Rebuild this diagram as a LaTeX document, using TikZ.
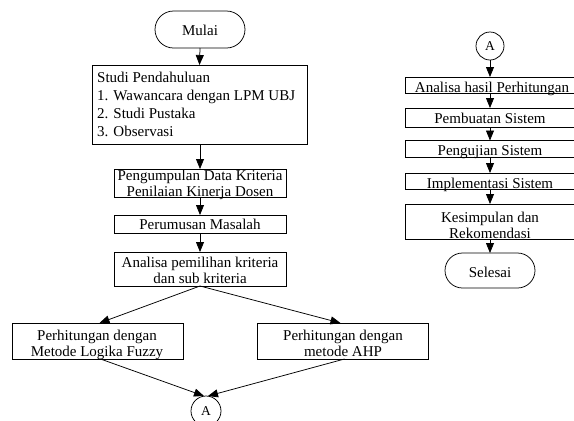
\documentclass[tikz,border=0pt]{standalone}
\usepackage{fontspec}
\setmainfont{Liberation Serif}
\usetikzlibrary{arrows.meta,shapes.misc}
\begin{document}
\begin{tikzpicture}[x=1pt,y=-1pt,
  box/.style={draw, line width=0.75pt, inner sep=0pt, outer sep=0pt, rectangle},
  term/.style={draw, line width=0.75pt, inner sep=0pt, outer sep=0pt, rounded rectangle, minimum width=90pt},
  conn/.style={draw, line width=0.75pt, inner sep=0pt, outer sep=0pt, circle},
  txt/.style={inner sep=0pt, font=\fontsize{15}{16}\selectfont, align=center},
  atxt/.style={inner sep=0pt, font=\fontsize{13.5}{15}\selectfont},
  arr/.style={line width=0.75pt, -{Triangle[length=10pt,width=8pt]}}]
\useasboundingbox (0,0) rectangle (574,421);
% left column shapes
\node[term, minimum height=37pt] (mulai) at (200,29.5) {};
\node[box, minimum width=215pt, minimum height=79pt] (studi) at (199.5,104.5) {};
\node[box, minimum width=172pt, minimum height=28pt] (peng) at (200,183) {};
\node[box, minimum width=172pt, minimum height=18pt] (rumus) at (200,224) {};
\node[box, minimum width=172pt, minimum height=34pt] (anal) at (200,269) {};
\node[box, minimum width=171pt, minimum height=36pt] (fuzzy) at (97.5,341) {};
\node[box, minimum width=171pt, minimum height=36pt] (ahp) at (342.5,341) {};
\node[conn, minimum size=30pt] (aB) at (206,411) {};
% right column shapes
\node[conn, minimum size=28pt] (aR) at (490,46) {};
\node[box, minimum width=169.5pt, minimum height=16pt] (hasil) at (489.75,85) {};
\node[box, minimum width=169.5pt, minimum height=19pt] (buat) at (489.75,117.5) {};
\node[box, minimum width=169.5pt, minimum height=17pt] (uji) at (489.75,149) {};
\node[box, minimum width=169.5pt, minimum height=16pt] (impl) at (489.75,181) {};
\node[box, minimum width=169.5pt, minimum height=35pt] (kesim) at (489.75,221.5) {};
\node[term, minimum height=35pt] (selesai) at (490,270.5) {};
% texts
\node[txt, anchor=base] (tmulai) at (200,35) {Mulai};
\node[txt, anchor=north west, align=left, font=\fontsize{15}{17.8}\selectfont] (tstudi) at (97,72.2)
  {Studi Pendahuluan\\1. Wawancara dengan LPM UBJ\\2. Studi Pustaka\\3. Observasi};
\node[txt, anchor=north] (tpeng) at (200,169.5) {Pengumpulan Data Kriteria\\Penilaian Kinerja Dosen};
\node[txt, anchor=base] (trumus) at (200,229) {Perumusan Masalah};
\node[txt, anchor=north] (tanal) at (200,256.5) {Analisa pemilihan kriteria\\dan sub kriteria};
\node[txt, anchor=north] (tfuzzy) at (97,329.8) {Perhitungan dengan\\Metode Logika Fuzzy};
\node[txt, anchor=north] (tahp) at (343,329.8) {Perhitungan dengan\\metode AHP};
\node[atxt, anchor=base] (taB) at (206,415.5) {A};
\node[atxt, anchor=base] (taR) at (490,50) {A};
\node[txt, anchor=base] (thasil) at (492,92) {Analisa hasil Perhitungan};
\node[txt, anchor=base] (tbuat) at (490,123) {Pembuatan Sistem};
\node[txt, anchor=base] (tuji) at (490,155) {Pengujian Sistem};
\node[txt, anchor=base] (timpl) at (490,188) {Implementasi Sistem};
\node[txt, anchor=north] (tkesim) at (490,211.8) {Kesimpulan dan\\Rekomendasi};
\node[txt, anchor=base] (tselesai) at (490,277.3) {Selesai};
% connectors left
\draw[arr] (mulai.south) -- (studi.north);
\draw[arr] (studi.south -| peng.north) -- (peng.north);
\draw[arr] (peng.south) -- (rumus.north);
\draw[arr] (rumus.south) -- (anal.north);
\draw[arr] (anal.south) -- ([xshift=2pt]fuzzy.north);
\draw[arr] (anal.south) -- ([xshift=-2pt]ahp.north);
\draw[arr] ([xshift=3pt]fuzzy.south) -- ([xshift=-2pt]aB.north);
\draw[arr] ([xshift=2pt]ahp.south) -- ([xshift=2pt]aB.north);
% connectors right
\draw[arr] (aR.south) -- (aR.south |- hasil.north);
\draw[arr] (aR.south |- hasil.south) -- (aR.south |- buat.north);
\draw[arr] (aR.south |- buat.south) -- (aR.south |- uji.north);
\draw[arr] (aR.south |- uji.south) -- (aR.south |- impl.north);
\draw[arr] (aR.south |- impl.south) -- (aR.south |- kesim.north);
\draw[arr] (aR.south |- kesim.south) -- (selesai.north);
\end{tikzpicture}
\end{document}
